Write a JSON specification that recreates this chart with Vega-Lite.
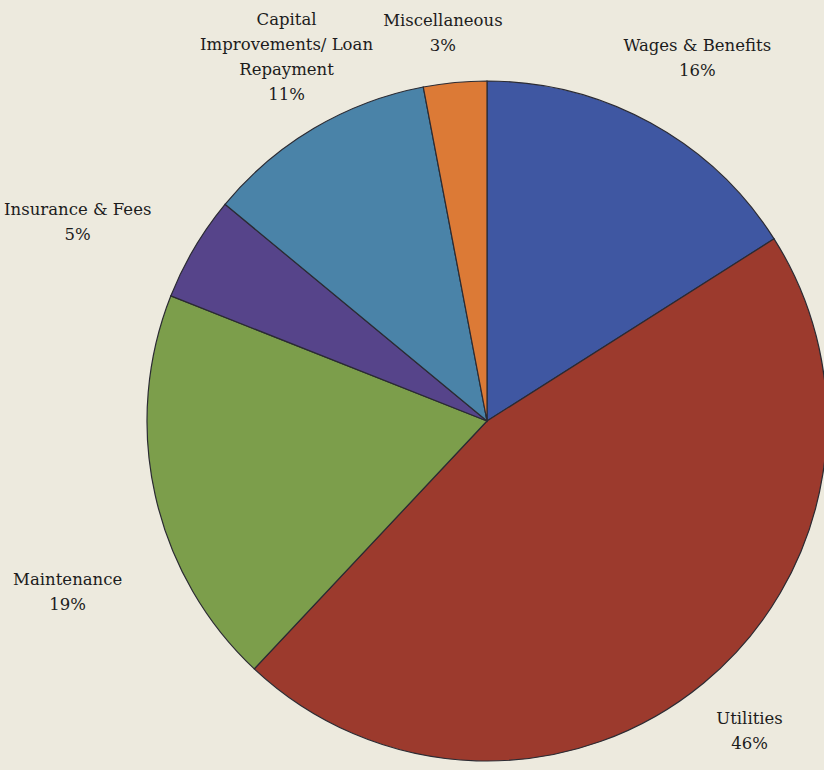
{
  "$schema": "https://vega.github.io/schema/vega-lite/v6.json",
  "width": 674,
  "height": 680,
  "autosize": {"type": "none"},
  "padding": {"left": 150, "top": 81, "right": 0, "bottom": 9},
  "background": "#EDEADE",
  "view": {"stroke": null},
  "data": {
    "values": [
      {"rank": 1, "category": "Wages & Benefits", "label": "Wages & Benefits\n16%", "percent": 16},
      {"rank": 2, "category": "Utilities", "label": "Utilities\n46%", "percent": 46},
      {"rank": 3, "category": "Maintenance", "label": "Maintenance\n19%", "percent": 19},
      {"rank": 4, "category": "Insurance & Fees", "label": "Insurance & Fees\n5%", "percent": 5},
      {"rank": 5, "category": "Capital Improvements/Loan Repayment", "label": "Capital\nImprovements/ Loan\nRepayment\n11%", "percent": 11},
      {"rank": 6, "category": "Miscellaneous", "label": "Miscellaneous\n3%", "percent": 3}
    ]
  },
  "encoding": {
    "theta": {"field": "percent", "type": "quantitative", "stack": true},
    "order": {"field": "rank", "type": "quantitative"}
  },
  "layer": [
    {
      "mark": {"type": "arc", "radius": 340, "stroke": "#2b2b33", "strokeWidth": 1.2},
      "encoding": {
        "color": {
          "field": "category",
          "type": "nominal",
          "legend": null,
          "scale": {
            "domain": ["Wages & Benefits", "Utilities", "Maintenance", "Insurance & Fees", "Capital Improvements/Loan Repayment", "Miscellaneous"],
            "range": ["#3F57A2", "#9C3A2D", "#7C9E4B", "#56448A", "#4A83A8", "#DC7A36"]
          }
        }
      }
    },
    {
      "mark": {"type": "text", "radius": 419, "thetaOffset": 0.023, "dy": -12.5, "font": "DejaVu Serif", "fontSize": 16.5, "lineHeight": 25, "lineBreak": "\n", "color": "#1c1c1c", "align": "center", "baseline": "middle"},
      "encoding": {"text": {"condition": {"test": "datum.category === 'Wages & Benefits'", "field": "label"}, "value": ""}}
    },
    {
      "mark": {"type": "text", "radius": 407, "thetaOffset": -0.01, "dy": -12.5, "font": "DejaVu Serif", "fontSize": 16.5, "lineHeight": 25, "lineBreak": "\n", "color": "#1c1c1c", "align": "center", "baseline": "middle"},
      "encoding": {"text": {"condition": {"test": "datum.category === 'Utilities'", "field": "label"}, "value": ""}}
    },
    {
      "mark": {"type": "text", "radius": 453, "thetaOffset": -0.168, "dy": -12.5, "font": "DejaVu Serif", "fontSize": 16.5, "lineHeight": 25, "lineBreak": "\n", "color": "#1c1c1c", "align": "center", "baseline": "middle"},
      "encoding": {"text": {"condition": {"test": "datum.category === 'Maintenance'", "field": "label"}, "value": ""}}
    },
    {
      "mark": {"type": "text", "radius": 455, "thetaOffset": -0.082, "dy": -12.5, "font": "DejaVu Serif", "fontSize": 16.5, "lineHeight": 25, "lineBreak": "\n", "color": "#1c1c1c", "align": "center", "baseline": "middle"},
      "encoding": {"text": {"condition": {"test": "datum.category === 'Insurance & Fees'", "field": "label"}, "value": ""}}
    },
    {
      "mark": {"type": "text", "radius": 415, "thetaOffset": 0.03, "dy": -37.5, "font": "DejaVu Serif", "fontSize": 16.5, "lineHeight": 25, "lineBreak": "\n", "color": "#1c1c1c", "align": "center", "baseline": "middle"},
      "encoding": {"text": {"condition": {"test": "datum.category === 'Capital Improvements/Loan Repayment'", "field": "label"}, "value": ""}}
    },
    {
      "mark": {"type": "text", "radius": 390, "thetaOffset": -0.019, "dy": -12.5, "font": "DejaVu Serif", "fontSize": 16.5, "lineHeight": 25, "lineBreak": "\n", "color": "#1c1c1c", "align": "center", "baseline": "middle"},
      "encoding": {"text": {"condition": {"test": "datum.category === 'Miscellaneous'", "field": "label"}, "value": ""}}
    }
  ]
}
